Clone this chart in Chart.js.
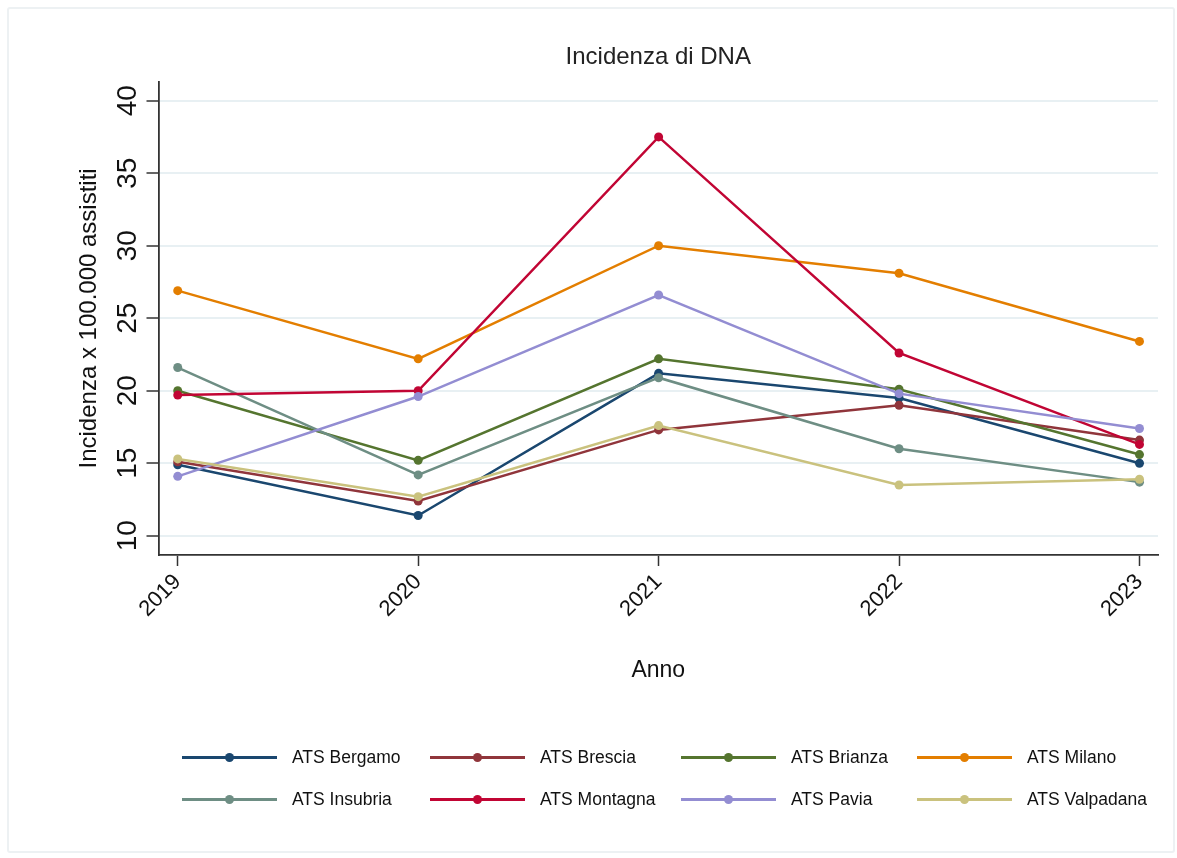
<!DOCTYPE html>
<html lang="it">
<head>
  <meta charset="UTF-8" />
  <title>Incidenza di DNA</title>
  <script src="https://cdn.jsdelivr.net/npm/chart.js"></script>
  <style>
    html, body { margin: 0; padding: 0; background: #fff; overflow: hidden; }
    .wrap { position: relative; width: 1177px; height: 858px; }
    .frame {
      position: absolute; left: 7px; top: 7px; width: 1168px; height: 846px;
      border: 2px solid #edf1f3; border-radius: 3px; box-sizing: border-box;
    }
    canvas { position: absolute; left: 0; top: 0; }
    .legend-item {
      position: absolute; height: 20px;
      font-family: "Liberation Sans", Arial, sans-serif; font-size: 17.5px; color: #111;
    }
    .legend-line { position: absolute; left: 0; top: 9px; width: 95px; height: 3px; }
    .legend-dot { position: absolute; left: 43px; top: 6px; width: 9px; height: 9px; border-radius: 50%; }
    .legend-text { position: absolute; left: 110px; top: 0; line-height: 20px; white-space: nowrap; }
  </style>
</head>
<body>
  <div class="wrap">
    <div class="frame"></div>
    <canvas id="chart" width="1177" height="858"></canvas>
    <div id="legend"></div>
  </div>

  <script>
    // dati
    const years = [2019, 2020, 2021, 2022, 2023];
    const yTicks = [10, 15, 20, 25, 30, 35, 40];

    const names = ['ATS Bergamo', 'ATS Brescia', 'ATS Brianza', 'ATS Milano',
                   'ATS Insubria', 'ATS Montagna', 'ATS Pavia', 'ATS Valpadana'];
    const colors = ['#1a476f', '#90353b', '#55752f', '#e37e00',
                    '#6e8e84', '#c10534', '#938dd2', '#cac27e'];

    const bergamo   = [14.9, 11.4, 21.2, 19.5, 15.0];
    const brescia   = [15.1, 12.4, 17.3, 19.0, 16.6];
    const brianza   = [20.0, 15.2, 22.2, 20.1, 15.6];
    const milano    = [26.9, 22.2, 30.0, 28.1, 23.4];
    const insubria  = [21.6, 14.2, 20.9, 16.0, 13.7];
    const montagna  = [19.7, 20.0, 37.5, 22.6, 16.3];
    const pavia     = [14.1, 19.6, 26.6, 19.8, 17.4];
    const valpadana = [15.3, 12.7, 17.6, 13.5, 13.9];

    const series = [bergamo, brescia, brianza, milano, insubria, montagna, pavia, valpadana];

    const FONT = '"Liberation Sans", Arial, sans-serif';

    const datasets = series.map((vals, i) => ({
      label: names[i],
      data: vals.map((v, j) => ({ x: years[j], y: v })),
      borderColor: colors[i],
      backgroundColor: colors[i],
      borderWidth: 2.5,
      pointRadius: 4.5,
      pointBorderWidth: 0,
      pointBackgroundColor: colors[i],
      tension: 0,
      order: series.length - i
    }));

    // etichette asse y ruotate (come nell'originale)
    const yLabels = {
      id: 'yLabels',
      afterDraw(chart) {
        const sc = chart.scales.y, ctx = chart.ctx;
        ctx.save();
        ctx.font = '28px ' + FONT;
        ctx.fillStyle = '#111';
        ctx.textAlign = 'center';
        ctx.textBaseline = 'alphabetic';
        sc.ticks.forEach(t => {
          ctx.save();
          ctx.translate(sc.right - 23, sc.getPixelForValue(t.value));
          ctx.rotate(-Math.PI / 2);
          ctx.fillText(String(t.value), 0, 0);
          ctx.restore();
        });
        ctx.restore();
      }
    };

    new Chart(document.getElementById('chart'), {
      type: 'line',
      data: { datasets },
      options: {
        responsive: false,
        animation: false,
        layout: { padding: { top: 0, left: 0, right: 19, bottom: 153 } },
        plugins: {
          legend: { display: false },
          tooltip: { enabled: false },
          title: {
            display: true,
            text: 'Incidenza di DNA',
            fullSize: false,
            color: '#222',
            font: { family: FONT, size: 24, weight: 'normal' },
            padding: { top: 43, bottom: 10 }
          }
        },
        scales: {
          x: {
            type: 'linear',
            min: 2018.92,
            max: 2023.077,
            afterBuildTicks: sc => { sc.ticks = years.map(v => ({ value: v })); },
            afterFit: sc => { sc.height = 150; },
            grid: { drawOnChartArea: false, drawTicks: true, tickLength: 11, tickColor: '#333', tickWidth: 1.5 },
            border: { color: '#333', width: 1.8 },
            ticks: {
              minRotation: 45, maxRotation: 45, padding: 3,
              color: '#111',
              font: { family: FONT, size: 22 },
              callback: v => String(v)
            },
            title: {
              display: true, text: 'Anno', color: '#111',
              font: { family: FONT, size: 23 },
              padding: { top: 0, bottom: 21 }
            }
          },
          y: {
            min: 8.676,
            max: 41.3,
            afterBuildTicks: sc => { sc.ticks = yTicks.map(v => ({ value: v })); },
            afterFit: sc => { sc.width = 158.5; },
            grid: { color: '#e8f0f3', lineWidth: 2, drawTicks: true, tickLength: 12, tickColor: '#333', tickWidth: 1.5 },
            border: { color: '#333', width: 1.8 },
            ticks: { display: false },
            title: {
              display: true, text: 'Incidenza x 100.000 assistiti', color: '#111',
              font: { family: FONT, size: 24 },
              padding: { top: 75, bottom: 0 }
            }
          }
        }
      },
      plugins: [yLabels]
    });

    // legenda su due righe, quattro colonne
    const legendCols = [182, 430, 681, 917];
    const legendRows = [747, 789];
    const legendEl = document.getElementById('legend');
    names.forEach((name, i) => {
      const item = document.createElement('div');
      item.className = 'legend-item';
      item.style.left = legendCols[i % 4] + 'px';
      item.style.top = legendRows[Math.floor(i / 4)] + 'px';
      item.innerHTML =
        '<div class="legend-line" style="background:' + colors[i] + '"></div>' +
        '<div class="legend-dot" style="background:' + colors[i] + '"></div>' +
        '<span class="legend-text">' + name + '</span>';
      legendEl.appendChild(item);
    });
  </script>
</body>
</html>
